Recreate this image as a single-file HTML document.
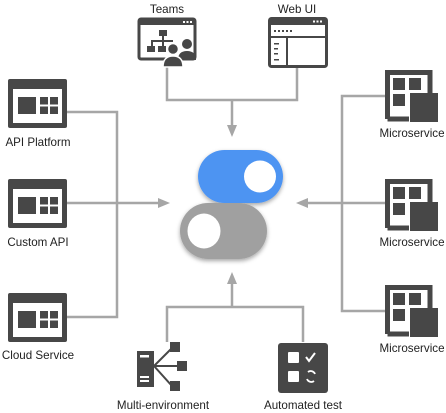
<!DOCTYPE html>
<html><head><meta charset="utf-8"><style>
html,body{margin:0;padding:0;background:#fff;width:446px;height:413px;overflow:hidden}
text{font-family:"Liberation Sans",Arial,sans-serif;font-size:11.6px;fill:#222}
</style></head><body>
<svg width="446" height="413" viewBox="0 0 446 413" xmlns="http://www.w3.org/2000/svg">
<defs>
<filter id="sh" x="-20%" y="-20%" width="140%" height="150%"><feDropShadow dx="0" dy="2" stdDeviation="2" flood-color="#000" flood-opacity="0.35"/></filter>
<g id="win">
<rect x="0" y="0" width="59" height="49" rx="2" fill="#474747"/>
<rect x="5" y="10" width="49" height="34" fill="#fff"/>
<rect x="10" y="18" width="18" height="17" fill="#474747"/>
<rect x="32" y="18" width="8" height="7.5" fill="#474747"/>
<rect x="42" y="18" width="8" height="7.5" fill="#474747"/>
<rect x="32" y="27.5" width="8" height="7.5" fill="#474747"/>
<rect x="42" y="27.5" width="8" height="7.5" fill="#474747"/>
</g>
<g id="ms">
<path d="M2.5 49 V2.5 H45 V24" fill="none" stroke="#474747" stroke-width="5"/>
<path d="M2.5 49 H24" fill="none" stroke="#474747" stroke-width="5"/>
<rect x="8" y="8" width="12" height="12" fill="#474747"/>
<rect x="24" y="8" width="12" height="12" fill="#474747"/>
<rect x="8" y="24" width="12" height="12" fill="#474747"/>
<rect x="25" y="23" width="28" height="29" fill="#474747"/>
</g>
</defs>
<g stroke="#a6a6a6" stroke-width="2.5" fill="none">
<path d="M67 112 H117 V317 H67"/>
<path d="M67 203 H160"/>
<path d="M167 67 V100 H297 V67"/>
<path d="M232 100 V128"/>
<path d="M387 96 H342 V311 H387"/>
<path d="M387 203 H304"/>
<path d="M167 342 V307 H303 V342"/>
<path d="M232 307 V282"/>
</g>
<g fill="#a6a6a6">
<path d="M170 203 L158 198 L158 208 Z"/>
<path d="M232 137 L227 125 L237 125 Z"/>
<path d="M296 203 L308 198 L308 208 Z"/>
<path d="M232 272 L227 284 L237 284 Z"/>
</g>
<g filter="url(#sh)">
<rect x="180" y="203" width="87" height="56" rx="28" fill="#a0a0a0"/>
<rect x="198" y="150" width="85" height="53" rx="26.5" fill="#4e94f2"/>
</g>
<circle cx="260" cy="176.5" r="16" fill="#fff"/>
<ellipse cx="204" cy="231" rx="16.5" ry="17.5" fill="#fff"/>
<use href="#win" x="8" y="79"/>
<use href="#win" x="8" y="179"/>
<use href="#win" x="8" y="293"/>
<text x="38" y="146" text-anchor="middle">API Platform</text>
<text x="38" y="246" text-anchor="middle">Custom API</text>
<text x="38" y="359" text-anchor="middle">Cloud Service</text>
<use href="#ms" x="385" y="70"/>
<use href="#ms" x="385" y="179"/>
<use href="#ms" x="385" y="285"/>
<text x="412" y="137" text-anchor="middle">Microservice</text>
<text x="412" y="246" text-anchor="middle">Microservice</text>
<text x="412" y="352" text-anchor="middle">Microservice</text>
<text x="167" y="13" text-anchor="middle">Teams</text>
<rect x="139" y="19" width="56" height="40" rx="2" fill="none" stroke="#474747" stroke-width="3"/>
<rect x="139" y="19" width="56" height="6" fill="#474747"/>
<rect x="183" y="21" width="2" height="2" fill="#fff"/><rect x="186.5" y="21" width="2" height="2" fill="#fff"/><rect x="190" y="21" width="2" height="2" fill="#fff"/>
<g fill="#474747">
<rect x="159" y="30" width="8" height="6"/><rect x="162" y="36" width="2" height="5"/><rect x="151" y="40" width="22" height="2"/>
<rect x="151" y="40" width="2" height="6"/><rect x="162" y="40" width="2" height="6"/><rect x="147" y="46" width="8" height="6"/><rect x="158" y="46" width="8" height="6"/>
<circle cx="187" cy="44" r="5"/><path d="M178 60 Q178 51 187 51 Q196 51 196 60 Z"/>
<circle cx="173" cy="49" r="5.5" stroke="#fff" stroke-width="1.5"/><path d="M163 67 Q163 56 173 56 Q183 56 183 67 Z" stroke="#fff" stroke-width="1.5"/>
</g>
<text x="297" y="13" text-anchor="middle">Web UI</text>
<rect x="269.5" y="18.5" width="57" height="48" rx="2" fill="none" stroke="#474747" stroke-width="3"/>
<rect x="269" y="18" width="58" height="7" fill="#474747"/>
<rect x="313" y="20.5" width="2" height="2" fill="#fff"/><rect x="316.5" y="20.5" width="2" height="2" fill="#fff"/><rect x="320" y="20.5" width="2" height="2" fill="#fff"/>
<g fill="#474747">
<rect x="270" y="36" width="56" height="2"/><rect x="286" y="36" width="2" height="30"/>
<rect x="274" y="30" width="2" height="2"/><rect x="278" y="30" width="2" height="2"/><rect x="282" y="30" width="2" height="2"/><rect x="286" y="30" width="2" height="2"/><rect x="290" y="30" width="2" height="2"/>
<rect x="274" y="43" width="5" height="1.5"/><rect x="274" y="48" width="4" height="1.5"/><rect x="274" y="53" width="4" height="1.5"/><rect x="274" y="59" width="5" height="1.5"/>
</g>
<g fill="#474747">
<rect x="137" y="351" width="17" height="36"/>
<rect x="140" y="355" width="9" height="2.5" fill="#fff"/>
<rect x="140" y="376" width="9" height="2" fill="#fff"/><rect x="140" y="380" width="9" height="2" fill="#fff"/>
<rect x="170" y="342" width="10" height="10"/><rect x="177" y="361" width="10" height="10"/><rect x="170" y="381" width="10" height="10"/>
</g>
<g stroke="#474747" stroke-width="2" fill="none"><path d="M154 366 L172 348 M154 366 H180 M154 366 L172 386"/></g>
<text x="163" y="409" text-anchor="middle">Multi-environment</text>
<rect x="278" y="343" width="50" height="50" rx="3" fill="#474747"/>
<rect x="288" y="352" width="11" height="11" rx="1" fill="#fff"/>
<rect x="288" y="371" width="11" height="11" rx="1" fill="#fff"/>
<path d="M306 357 L309 361 L315 353" stroke="#fff" stroke-width="2" fill="none"/>
<path d="M308 372 a4.5 4.5 0 0 1 7 2 M314 381 a4.5 4.5 0 0 1 -7 -2" stroke="#fff" stroke-width="1.8" fill="none"/>
<text x="303" y="409" text-anchor="middle">Automated test</text>
</svg>
</body></html>
